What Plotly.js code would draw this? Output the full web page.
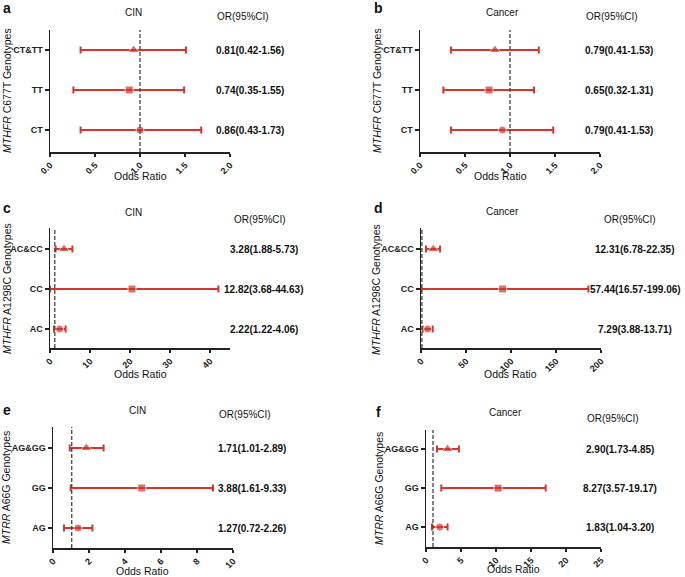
<!DOCTYPE html>
<html>
<head>
<meta charset="utf-8">
<script src="https://cdn.plot.ly/plotly-3.0.1.min.js"></script>
<style>
  html, body { margin: 0; padding: 0; background: #fff; }
  #chart { width: 685px; height: 577px; }
</style>
</head>
<body>
<div id="chart"></div>
<script>
// --- data (bottom -> top order) ---
const catsC677T = ["CT", "TT", "CT&TT"];
const catsA1298C = ["AC", "CC", "AC&CC"];
const catsA66G = ["AG", "GG", "AG&GG"];

// plotted OR point, lower and upper whisker
const orA = [1.0, 0.88, 0.93];
const loA = [0.34, 0.26, 0.34];
const hiA = [1.68, 1.49, 1.51];
const txtA = ["0.86(0.43-1.73)", "0.74(0.35-1.55)", "0.81(0.42-1.56)"];

const orB = [0.915, 0.767, 0.833];
const loB = [0.344, 0.26, 0.344];
const hiB = [1.48, 1.267, 1.32];
const txtB = ["0.79(0.41-1.53)", "0.65(0.32-1.31)", "0.79(0.41-1.53)"];

const orC = [2.4, 20.5, 3.5];
const loC = [1.0, 0, 1.4];
const hiC = [3.9, 42.1, 5.6];
const txtC = ["2.22(1.22-4.06)", "12.82(3.68-44.63)", "3.28(1.88-5.73)"];

const orD = [7.4, 90.7, 13.7];
const loD = [1.85, 0, 5.6];
const hiD = [13, 186, 21.1];
const txtD = ["7.29(3.88-13.71)", "57.44(16.57-199.06)", "12.31(6.78-22.35)"];

const orE = [1.39, 4.93, 1.85];
const loE = [0.61, 0.98, 0.93];
const hiE = [2.19, 8.89, 2.81];
const txtE = ["1.27(0.72-2.26)", "3.88(1.61-9.33)", "1.71(1.01-2.89)"];

const orF = [1.95, 10.3, 3.08];
const loF = [0.85, 2.18, 1.57];
const hiF = [3.08, 17.1, 4.7];
const txtF = ["1.83(1.04-3.20)", "8.27(3.57-19.17)", "2.90(1.73-4.85)"];

const W = 685, H = 577;
const RED = "#d7342b";
const FONT = "Liberation Sans, Arial, sans-serif";
const px = x => x / W;
const py = y => 1 - y / H;

// panel layout in pixels
const panels = [
  { letter: "a", title: "CIN", cats: catsC677T, or: orA, lo: loA, hi: hiA, txt: txtA,
    gene: "<i>MTHFR</i> C677T Genotypes", ref: 1.0,
    xr: [0, 2], dtick: 0.5, fmt: ".1f", box: [50, 230, 30, 152], yr: [-0.55, 2.5],
    tPos: [133, 12], orPos: [243, 17], valX: 250, lPos: [1, 8], gPos: [7, 91], xlPos: [140, 176] },
  { letter: "b", title: "Cancer", cats: catsC677T, or: orB, lo: loB, hi: hiB, txt: txtB,
    gene: "<i>MTHFR</i> C677T Genotypes", ref: 1.0,
    xr: [0, 2], dtick: 0.5, fmt: ".1f", box: [420, 600, 30, 152], yr: [-0.55, 2.5],
    tPos: [502, 12], orPos: [612, 17], valX: 619, lPos: [372, 8], gPos: [377, 91], xlPos: [500, 176] },
  { letter: "c", title: "CIN", cats: catsA1298C, or: orC, lo: loC, hi: hiC, txt: txtC,
    gene: "<i>MTHFR</i> A1298C Genotypes", ref: 1.2,
    xr: [0, 45], dtick: 10, fmt: "", box: [50, 230, 228, 348], yr: [-0.475, 2.525],
    tPos: [133, 212], orPos: [260, 219], valX: 264, lPos: [1, 208], gPos: [7, 289], xlPos: [140, 374] },
  { letter: "d", title: "Cancer", cats: catsA1298C, or: orD, lo: loD, hi: hiD, txt: txtD,
    gene: "<i>MTHFR</i> A1298C Genotypes", ref: 1.0,
    xr: [0, 200], dtick: 50, fmt: "", box: [421, 601, 228, 348], yr: [-0.475, 2.525],
    tPos: [502, 211], orPos: [630, 219], valX: 635, lPos: [372, 208], gPos: [376, 290], xlPos: [510, 374] },
  { letter: "e", title: "CIN", cats: catsA66G, or: orE, lo: loE, hi: hiE, txt: txtE,
    gene: "<i>MTRR</i> A66G Genotypes", ref: 1.04,
    xr: [0, 10], dtick: 2, fmt: "", box: [53, 233, 427, 548], yr: [-0.5, 2.525],
    tPos: [137, 410], orPos: [245, 414], valX: 252, lPos: [1, 410], gPos: [6, 488], xlPos: [142, 571] },
  { letter: "f", title: "Cancer", cats: catsA66G, or: orF, lo: loF, hi: hiF, txt: txtF,
    gene: "<i>MTRR</i> A66G Genotypes", ref: 1.0,
    xr: [0, 25], dtick: 5, fmt: "", box: [426, 601, 430, 547], yr: [-0.51, 2.49],
    tPos: [505, 412], orPos: [613, 418], valX: 620, lPos: [374, 412], gPos: [379, 488], xlPos: [513, 569] },
];

const traces = [];
const layout = {
  width: W, height: H,
  margin: { l: 0, r: 0, t: 0, b: 0 },
  paper_bgcolor: "#fff", plot_bgcolor: "#fff",
  font: { family: FONT, color: "#111" },
  showlegend: false,
  shapes: [], annotations: [],
};

panels.forEach((p, i) => {
  const n = i + 1;
  const xa = "x" + (n === 1 ? "" : n);
  const ya = "y" + (n === 1 ? "" : n);
  const [x0, x1, y0, y1] = p.box;

  traces.push({
    type: "scatter", mode: "markers",
    x: p.or, y: p.cats, xaxis: xa, yaxis: ya,
    marker: { symbol: ["circle", "square", "triangle-up"], size: [8, 8, 10], color: RED },
    error_x: {
      type: "data", symmetric: false,
      array: p.hi.map((h, k) => h - p.or[k]),
      arrayminus: p.lo.map((l, k) => p.or[k] - l),
      color: RED, thickness: 2, width: 3.5,
    },
    hoverinfo: "skip",
  });

  layout["xaxis" + (n === 1 ? "" : n)] = {
    domain: [px(x0), px(x1)], anchor: ya, range: p.xr,
    tick0: 0, dtick: p.dtick, tickformat: p.fmt, tickangle: -45,
    ticks: "outside", ticklen: 3, tickwidth: 1.3, tickcolor: "#222",
    showline: true, linewidth: 1.5, linecolor: "#222",
    showgrid: false, zeroline: false,
    tickfont: { size: 9, family: FONT, weight: "bold", color: "#222" },
  };
  layout["yaxis" + (n === 1 ? "" : n)] = {
    domain: [py(y1), py(y0)], anchor: xa, type: "category",
    categoryorder: "array", categoryarray: p.cats, range: p.yr,
    ticks: "outside", ticklen: 4, tickwidth: 1.3, tickcolor: "#222",
    showline: true, linewidth: 1.5, linecolor: "#222",
    showgrid: false, zeroline: false,
    tickfont: { size: 9, family: FONT, weight: "bold", color: "#222" },
  };

  // reference line
  layout.shapes.push({
    type: "line", xref: xa, yref: ya + " domain",
    x0: p.ref, x1: p.ref, y0: 0, y1: 1,
    line: { color: "#444", width: 1.3, dash: "4px,2px" },
  });

  const ann = (x, y, text, extra) => Object.assign({
    xref: "paper", yref: "paper", x: px(x), y: py(y), text: text,
    showarrow: false, xanchor: "center", yanchor: "middle",
    font: { size: 10, family: FONT, color: "#111" },
  }, extra || {});

  layout.annotations.push(ann(p.tPos[0], p.tPos[1], p.title));
  layout.annotations.push(ann(p.orPos[0], p.orPos[1], "OR(95%CI)"));
  layout.annotations.push(ann(p.lPos[0], p.lPos[1], p.letter,
    { xanchor: "left", font: { size: 14, family: FONT, weight: "bold", color: "#111" } }));
  layout.annotations.push(ann(p.gPos[0], p.gPos[1], p.gene,
    { textangle: -90, font: { size: 10.5, family: FONT, color: "#111" } }));
  layout.annotations.push(ann(p.xlPos[0], p.xlPos[1], "Odds Ratio",
    { font: { size: 10.5, family: FONT, color: "#111" } }));

  // OR(95%CI) values beside each row
  p.cats.forEach((c, k) => {
    layout.annotations.push({
      xref: "paper", yref: ya, x: px(p.valX), y: c, text: p.txt[k],
      showarrow: false, xanchor: "center", yanchor: "middle",
      font: { size: 10, family: FONT, weight: "bold", color: "#111" },
    });
  });
});

Plotly.newPlot("chart", traces, layout, { displayModeBar: false, staticPlot: true });
</script>
</body>
</html>
